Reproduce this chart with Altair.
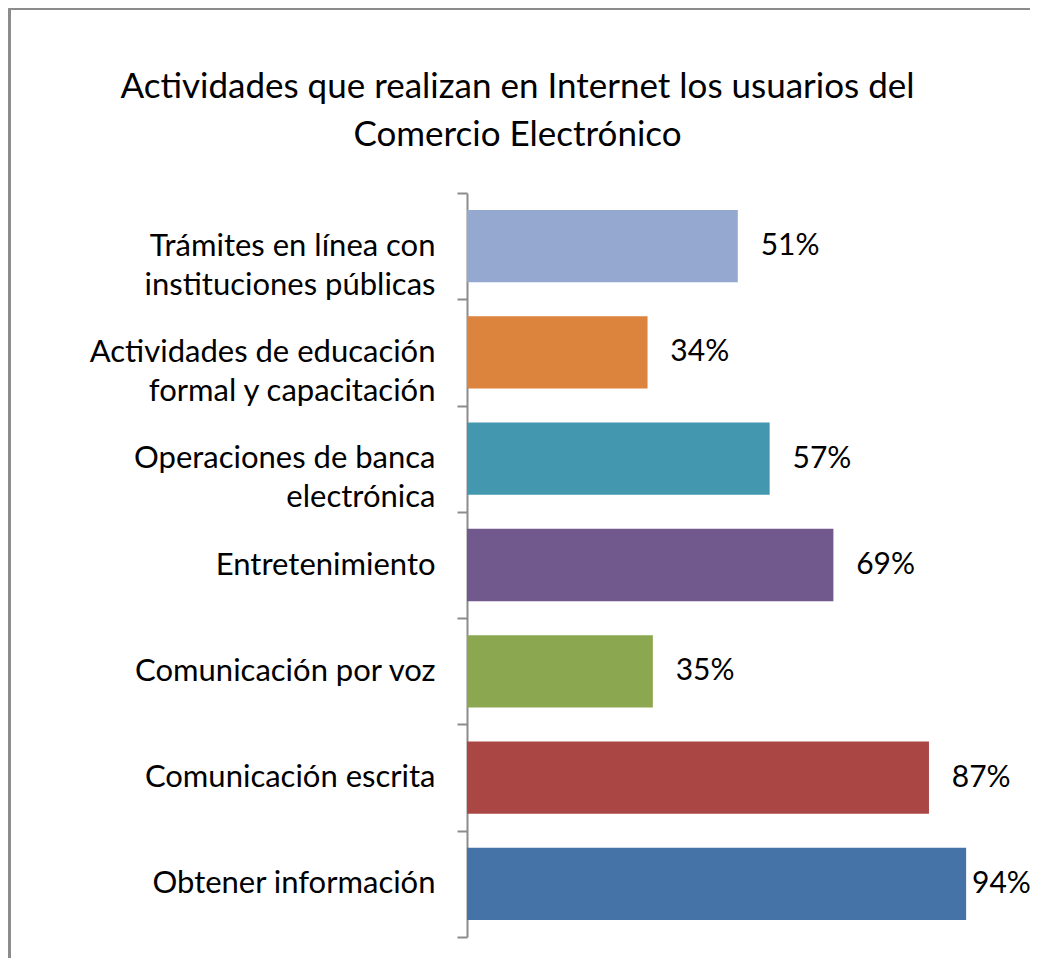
import altair as alt
import pandas as pd

categorias = [
    "Trámites en línea con|instituciones públicas",
    "Actividades de educación|formal y capacitación",
    "Operaciones de banca|electrónica",
    "Entretenimiento",
    "Comunicación por voz",
    "Comunicación escrita",
    "Obtener información",
]
valores = [51, 34, 57, 69, 35, 87, 94]
colores = ["#95A9D0", "#DC833E", "#4398B0", "#71598D", "#8BA74F", "#AA4745", "#4673A7"]
etiquetas = [f"{v}%" for v in valores]

df = pd.DataFrame({"cat": categorias, "val": valores, "color": colores, "etiqueta": etiquetas})

FONT = "Lato"
W, H = 531, 744
PAD = {"left": 459, "top": 185, "right": 32, "bottom": 21}

y_enc = alt.Y(
    "cat:N",
    sort=categorias,
    scale=alt.Scale(paddingInner=0, paddingOuter=0),
    axis=alt.Axis(
        title=None,
        labelExpr="split(datum.label, '|')",
        labelFont=FONT,
        labelFontSize=31,
        labelColor="black",
        labelLineHeight=39,
        labelLimit=0,
        labelPadding=22,
        tickBand="extent",
        tickSize=10,
        tickWidth=2,
        tickColor="#8c8c8c",
        domainColor="#8c8c8c",
        domainWidth=2,
    ),
)
x_enc = alt.X("val:Q", scale=alt.Scale(domain=[0, 100]), axis=None)

base = alt.Chart(df)

bars = base.mark_bar(height=alt.RelativeBandSize(band=0.68)).encode(
    x=x_enc, y=y_enc, color=alt.Color("color:N", scale=None)
)

labels = base.transform_calculate(
    lx="min(datum.val + 4.3, 95.1)"
).mark_text(align="left", baseline="middle", font=FONT, fontSize=30, color="black").encode(
    x=alt.X("lx:Q", scale=alt.Scale(domain=[0, 100]), axis=None),
    y=alt.Y("cat:N", sort=categorias),
    text="etiqueta:N",
)

border_left = base.mark_rule(color="#8c8c8c", strokeWidth=2).encode(
    x=alt.value(-457.5), y=alt.value(-184.5), y2=alt.value(H + PAD["bottom"] + 5)
)
border_top = base.mark_rule(color="#8c8c8c", strokeWidth=2).encode(
    x=alt.value(-457.5), x2=alt.value(W + PAD["right"]), y=alt.value(-184.5)
)

chart = alt.layer(bars, labels, border_left, border_top).properties(
    width=W,
    height=H,
    padding=PAD,
    autosize=alt.AutoSizeParams(type="none"),
    title=alt.TitleParams(
        text=["Actividades que realizan en Internet los usuarios del", "Comercio Electrónico"],
        font=FONT,
        fontSize=35,
        fontWeight="normal",
        color="black",
        anchor="middle",
        dx=-215,
        baseline="bottom",
        offset=-180,
        lineHeight=48,
    ),
).configure_view(stroke=None)

chart.save("out.html", embed_options={"renderer": "svg", "actions": False})
